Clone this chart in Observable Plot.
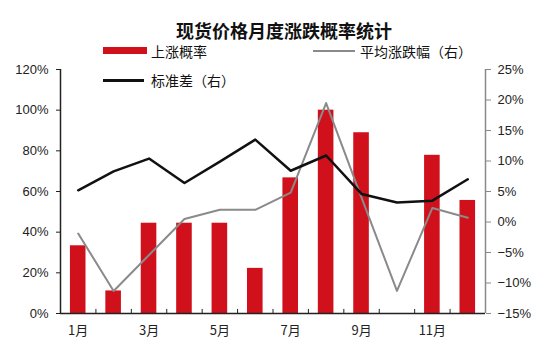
<!DOCTYPE html>
<html><head><meta charset="utf-8">
<script src="https://cdn.jsdelivr.net/npm/d3@7"></script>
<script src="https://cdn.jsdelivr.net/npm/@observablehq/plot@0.6"></script>
<style>
body{margin:0;background:#fff;font-family:"Liberation Sans","Noto Sans CJK SC",sans-serif;}
#wrap{position:relative;width:552px;height:354px;}
.t{position:absolute;font-family:"Noto Sans CJK SC",sans-serif;color:#111;white-space:nowrap;}
</style></head>
<body><div id="wrap"></div>
<script>
const months = [1,2,3,4,5,6,7,8,9,10,11,12];
const monthLabels = ["1月","2月","3月","4月","5月","6月","7月","8月","9月","10月","11月","12月"];
const upProb = [33.3,11.1,44.4,44.4,44.4,22.2,66.7,100,88.9,0,77.8,55.6];      // 上涨概率 %
const avgChange = [-1.9,-11.3,-5.4,0.5,2.0,2.0,4.8,19.5,4.0,-11.3,2.3,0.7];   // 平均涨跌幅（右） %
const stdDev = [5.2,8.3,10.4,6.4,9.9,13.5,8.4,10.9,4.6,3.2,3.5,7.0];          // 标准差（右） %
const leftTicks = [0,20,40,60,80,100,120];
const rightTicks = [-15,-10,-5,0,5,10,15,20,25];
const xLabelMonths = [1,3,5,7,9,11];

const rMin = -15, rMax = 25, lMax = 120;
const toLeft = r => (r - rMin) / (rMax - rMin) * lMax;
const fmtPct = v => (v < 0 ? "\u2212" + Math.abs(v) : v) + "%";

const bars = months.map((m,i)=>({m, v: upProb[i]}));
const avg = months.map((m,i)=>({m, v: toLeft(avgChange[i])}));
const sd = months.map((m,i)=>({m, v: toLeft(stdDev[i])}));
const bounds = months.slice(0,-1).map(m => m + 0.5);

const chart = Plot.plot({
  width: 552, height: 354,
  marginTop: 69, marginBottom: 41, marginLeft: 60, marginRight: 67,
  style: {fontFamily: '"Liberation Sans","Noto Sans CJK SC",sans-serif', fontSize: "13px", color: "#222", background: "#fff"},
  x: {type: "linear", domain: [0.5, 12.5]},
  y: {domain: [0, lMax]},
  marks: [
    Plot.rectY(bars, {x1: d => d.m - 0.22, x2: d => d.m + 0.22, y: "v", fill: "#d0111b"}),
    Plot.lineY(avg, {x: "m", y: "v", stroke: "#8a8a8a", strokeWidth: 2}),
    Plot.lineY(sd, {x: "m", y: "v", stroke: "#111", strokeWidth: 2.5}),
    // left axis
    Plot.axisY({anchor: "left", ticks: leftTicks, tickFormat: d => d + "%", tickSize: 4, tickPadding: 8, label: null, stroke: "#222", fontSize: 13}),
    Plot.ruleX([0.5], {y1: 0, y2: lMax, stroke: "#222", strokeWidth: 1.5}),
    // right axis
    Plot.axisY({anchor: "right", ticks: rightTicks.map(toLeft), tickFormat: (d,i) => fmtPct(rightTicks[i]), tickSize: 5, tickPadding: 7, label: null, stroke: "#888", fontSize: 13}),
    Plot.ruleX([12.5], {y1: 0, y2: lMax, stroke: "#888", strokeWidth: 1.5}),
    // bottom axis
    Plot.ruleY([0], {x1: 0.5, x2: 12.5, stroke: "#222", strokeWidth: 1.5}),
    Plot.ruleX(bounds, {x: d => d, y1: 0, y2: 2, stroke: "#222"}),
    Plot.axisX({anchor: "bottom", ticks: xLabelMonths, tickFormat: d => monthLabels[d-1], tickSize: 0, tickPadding: 12, label: null, fontSize: 13, fontFamily: '"Noto Sans CJK SC",sans-serif'})
  ]
});
const wrap = document.getElementById("wrap");
wrap.appendChild(chart);

function addText(txt, x, y, size, bold){
  const d = document.createElement("div");
  d.className = "t"; d.textContent = txt;
  d.style.left = x + "px"; d.style.top = y + "px"; d.style.fontSize = size + "px";
  d.style.lineHeight = "1"; if (bold) d.style.fontWeight = "bold";
  wrap.appendChild(d); return d;
}
function addSwatch(x, y, w, h, color){
  const d = document.createElement("div");
  d.style.cssText = `position:absolute;left:${x}px;top:${y}px;width:${w}px;height:${h}px;background:${color}`;
  wrap.appendChild(d);
}
const title = addText("现货价格月度涨跌概率统计", 0, 21, 18, true);
title.style.width = "552px"; title.style.left = "8px"; title.style.textAlign = "center";
addSwatch(103, 47, 44, 7, "#d0111b");
addText("上涨概率", 151, 44, 14);
addSwatch(313, 50, 42, 2, "#8a8a8a");
addText("平均涨跌幅（右）", 360, 44, 14);
addSwatch(103, 79, 41, 3, "#111");
addText("标准差（右）", 151, 73, 14);
</script></body></html>
